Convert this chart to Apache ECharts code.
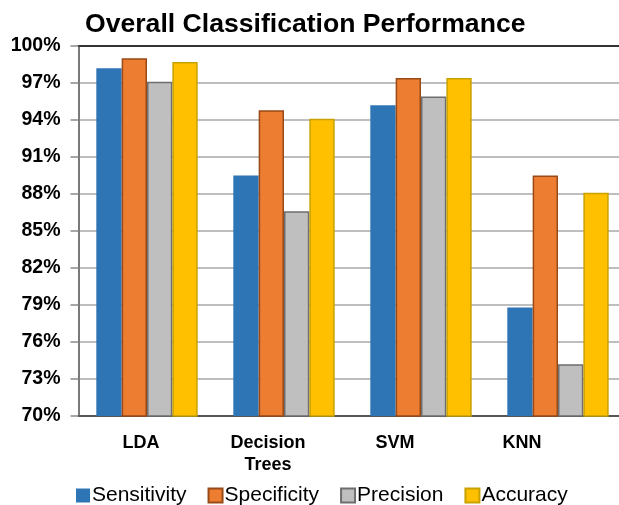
<!DOCTYPE html>
<html>
<head>
<meta charset="utf-8">
<script src="https://cdn.jsdelivr.net/npm/echarts@6/dist/echarts.min.js"></script>
<style>
  html, body { margin: 0; padding: 0; background: #fff; }
  #chart { width: 619px; height: 505px; }
</style>
</head>
<body>
<div id="chart"></div>
<script>
// Classifier names shown along the x axis
const categories = ['LDA', 'Decision\nTrees', 'SVM', 'KNN'];

// Metric values in percent, one entry per classifier
const sensitivity = [98.2, 89.5, 95.2, 78.8];
const specificity = [99.0, 94.8, 97.4, 89.5];
const precision   = [97.1, 86.6, 95.9, 74.2];
const accuracy    = [98.7, 94.1, 97.4, 88.1];

// Value axis range and step (percent)
const yMin = 70;
const yMax = 100;
const yStep = 3;

const FONT = 'Liberation Sans, Arial, sans-serif';

function barSeries(name, data, color, borderColor, borderWidth) {
  return {
    name: name,
    type: 'bar',
    xAxisIndex: 0,
    yAxisIndex: 0,
    data: data,
    barGap: '0%',
    barCategoryGap: '26%',
    itemStyle: { color: color, borderColor: borderColor, borderWidth: borderWidth },
    emphasis: { disabled: true }
  };
}

const chart = echarts.init(document.getElementById('chart'), null, { renderer: 'canvas' });

chart.setOption({
  animation: false,
  backgroundColor: '#ffffff',
  title: {
    text: 'Overall Classification Performance',
    left: 80,
    top: 6,
    textStyle: { fontFamily: FONT, fontSize: 26.6, fontWeight: 'bold', color: '#000' }
  },
  legend: {
    left: 71,
    top: 480,
    itemWidth: 14,
    itemHeight: 14,
    itemGap: 21,
    icon: 'rect',
    textStyle: { fontFamily: FONT, fontSize: 21, color: '#000', padding: [0, 0, 0, -3] },
    data: ['Sensitivity', 'Specificity', 'Precision', 'Accuracy']
  },
  grid: [
    // plot area runs a little past the right edge of the canvas
    { left: 78.5, width: 548, top: 46, height: 370, containLabel: false, outerBoundsMode: 'none' },
    // narrower band that carries the category names
    { left: 77.5, width: 508, top: 46, height: 370, containLabel: false, outerBoundsMode: 'none' }
  ],
  xAxis: [
    {
      type: 'category',
      gridIndex: 0,
      data: categories,
      axisLine: { lineStyle: { color: '#555', width: 2 } },
      axisTick: { show: false },
      axisLabel: { show: false }
    },
    {
      type: 'category',
      gridIndex: 0,
      position: 'top',
      data: categories,
      axisLine: { lineStyle: { color: '#333', width: 2 } },
      axisTick: { show: false },
      axisLabel: { show: false }
    },
    {
      type: 'category',
      gridIndex: 1,
      data: categories,
      axisLine: { show: false },
      axisTick: { show: false },
      splitLine: { show: false },
      axisLabel: {
        fontFamily: FONT, fontSize: 18, fontWeight: 'bold', color: '#000',
        lineHeight: 22, margin: 16
      }
    }
  ],
  yAxis: [
    {
      type: 'value',
      gridIndex: 0,
      min: yMin,
      max: yMax,
      interval: yStep,
      axisLine: { show: true, lineStyle: { color: '#7a7a7a', width: 2 } },
      axisTick: { show: true, inside: false, length: 8, lineStyle: { color: '#8a8a8a', width: 1.5 } },
      splitLine: { show: true, lineStyle: { color: '#a8a8a8', width: 1.5 } },
      axisLabel: {
        fontFamily: FONT, fontSize: 19.5, fontWeight: 'bold', color: '#000',
        margin: 18,
        formatter: '{value}%'
      }
    },
    {
      type: 'value',
      gridIndex: 1,
      min: yMin,
      max: yMax,
      show: false
    }
  ],
  series: [
    barSeries('Sensitivity', sensitivity, '#2E75B6', '#2E75B6', 0),
    barSeries('Specificity', specificity, '#ED7D31', '#9A4A17', 1.5),
    barSeries('Precision', precision, '#BFBFBF', '#6E6E6E', 1.5),
    barSeries('Accuracy', accuracy, '#FFC000', '#C9A100', 1.5)
  ]
});
</script>
</body>
</html>
